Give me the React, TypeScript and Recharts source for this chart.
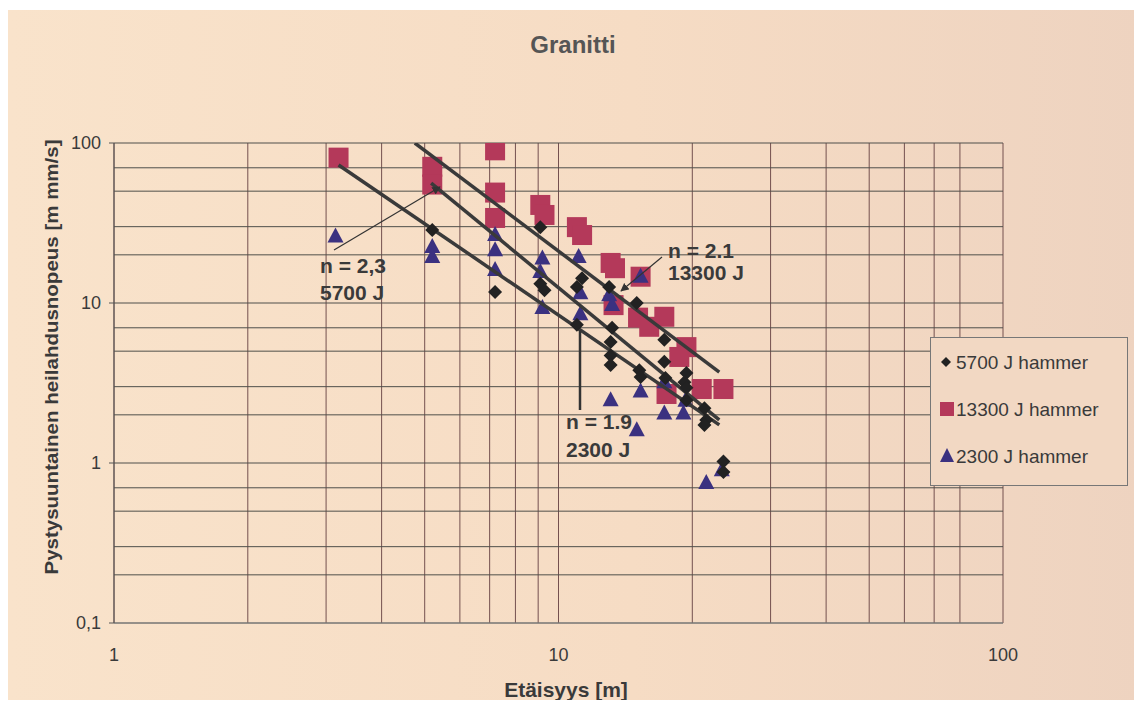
import React from "react";
import {
  ScatterChart,
  Scatter,
  XAxis,
  YAxis,
  CartesianGrid,
} from "recharts";

// 5700 J hammer (diamonds)
const h5700X = [5.2, 7.2, 9.1, 9.1, 9.3, 11.0, 11.3, 11.0, 13.0, 13.2, 13.1, 13.1, 13.1, 15.0, 15.2, 15.3, 17.3, 17.3, 17.4, 19.4, 19.2, 19.4, 19.4, 21.3, 21.5, 21.3, 23.5, 23.5];
const h5700Y = [28.6, 11.7, 29.8, 13.2, 12.0, 12.6, 14.3, 7.3, 12.6, 7.0, 5.7, 4.7, 4.1, 10.0, 3.8, 3.45, 5.9, 4.3, 3.4, 3.65, 3.2, 2.95, 2.47, 2.2, 1.86, 1.73, 1.02, 0.88];

// 13300 J hammer (squares)
const h13300X = [3.2, 5.2, 5.2, 7.2, 7.2, 7.2, 9.1, 9.3, 11.0, 11.3, 13.1, 13.4, 15.3, 13.3, 15.1, 17.3, 16.0, 19.4, 18.7, 17.5, 21.0, 23.5];
const h13300Y = [81, 71, 55, 90, 49, 34, 41, 35.5, 29.8, 26.6, 17.8, 16.5, 14.6, 9.7, 8.1, 8.2, 7.1, 5.3, 4.6, 2.7, 2.9, 2.9];

// 2300 J hammer (triangles)
const h2300X = [3.15, 5.2, 5.2, 7.2, 7.2, 7.2, 9.2, 9.1, 9.2, 11.1, 11.2, 11.2, 13.0, 13.2, 15.3, 13.1, 15.3, 15.0, 17.3, 19.1, 19.3, 17.3, 21.5, 23.3];
const h2300Y = [26, 22.4, 19.4, 26.6, 21.4, 16.1, 19.0, 15.6, 9.3, 19.4, 11.5, 8.5, 11.2, 9.7, 14.6, 2.47, 2.8, 1.6, 2.04, 2.04, 2.45, 3.2, 0.75, 0.9];

// fitted lines, end points
const fit13300X = [4.75, 23.0];
const fit13300Y = [100, 3.7];
const fit5700X = [5.17, 23.0];
const fit5700Y = [56.2, 1.86];
const fit2300X = [3.2, 23.0];
const fit2300Y = [72.9, 1.73];

const X_TICKS = [1, 10, 100];
const Y_TICKS = [0.1, 1, 10, 100];
const X_GRID = [1, 2, 3, 4, 5, 6, 7, 8, 9, 10, 20, 30, 40, 50, 60, 70, 80, 90, 100];
const Y_GRID = [0.1, 0.2, 0.3, 0.4, 0.5, 0.6, 0.7, 0.8, 0.9, 1, 2, 3, 4, 5, 6, 7, 8, 9, 10, 20, 30, 40, 50, 60, 70, 80, 90, 100];

const zip = (xs: number[], ys: number[]) => xs.map((x, i) => ({ x, y: ys[i] }));

const FONT = "'Liberation Sans', Arial, sans-serif";
const TEXT = "#3a3a3a";
const RED = "#b4395a";
const BLUE = "#3b3180";
const BLACK = "#222";
const LINE = "#3a3a3a";

const DiamondShape = (p: any) => (
  <polygon
    points={`${p.cx},${p.cy - 7} ${p.cx + 7},${p.cy} ${p.cx},${p.cy + 7} ${p.cx - 7},${p.cy}`}
    fill={BLACK}
  />
);
const SquareShape = (p: any) => (
  <rect x={p.cx - 10} y={p.cy - 10} width={20} height={20} fill={RED} />
);
const TriangleShape = (p: any) => (
  <polygon
    points={`${p.cx},${p.cy - 9} ${p.cx + 8},${p.cy + 6} ${p.cx - 8},${p.cy + 6}`}
    fill={BLUE}
  />
);
const NoShape = () => <g />;

const legendItems = [
  { label: "5700 J hammer", icon: "diamond" },
  { label: "13300 J hammer", icon: "square" },
  { label: "2300 J hammer", icon: "triangle" },
];

function LegendBox() {
  return (
    <svg
      width={198}
      height={149}
      style={{ position: "absolute", left: 922, top: 327, display: "block" }}
    >
      <rect x={0.5} y={0.5} width={197} height={148} fill="#f2d8c3" stroke="#777" />
      {legendItems.map((it, i) => {
        const cy = 25 + i * 47;
        return (
          <g key={it.label}>
            {it.icon === "diamond" && (
              <polygon points={`16,${cy - 5} 21,${cy} 16,${cy + 5} 11,${cy}`} fill={BLACK} />
            )}
            {it.icon === "square" && <rect x={10} y={cy - 7} width={14} height={14} fill={RED} />}
            {it.icon === "triangle" && (
              <polygon points={`17,${cy - 8} 24,${cy + 6} 10,${cy + 6}`} fill={BLUE} />
            )}
            <text x={26} y={cy + 7} fontSize={19} fontFamily={FONT} fill={TEXT}>
              {it.label}
            </text>
          </g>
        );
      })}
    </svg>
  );
}

export default function App() {
  return (
    <div style={{ paddingTop: 2 }}>
      <div
        style={{
          position: "relative",
          width: 1134,
          height: 690,
          background: "linear-gradient(90deg, #f9e3cb 0%, #f6dcc4 55%, #eed3c0 100%)",
        }}
      >
        <ScatterChart
          width={1134}
          height={690}
          margin={{ top: 133, right: 139, bottom: 37, left: 46 }}
        >
          <CartesianGrid
            horizontal={false}
            verticalValues={X_GRID}
            stroke="#74504f"
            strokeWidth={1}
          />
          <CartesianGrid
            vertical={false}
            horizontalValues={Y_GRID}
            stroke="#4f4f4a"
            strokeWidth={1}
          />
          <XAxis
            type="number"
            dataKey="x"
            scale="log"
            domain={[1, 100]}
            ticks={X_TICKS}
            allowDataOverflow
            height={40}
            tickLine={false}
            tickMargin={19}
            axisLine={{ stroke: "#888" }}
            tick={{ fontSize: 18, fill: TEXT, fontFamily: FONT }}
          />
          <YAxis
            type="number"
            dataKey="y"
            scale="log"
            domain={[0.1, 100]}
            ticks={Y_TICKS}
            allowDataOverflow
            width={60}
            tickSize={5}
            tickMargin={8}
            axisLine={{ stroke: "#555" }}
            tickLine={{ stroke: "#555" }}
            tickFormatter={(v: number) => (v === 0.1 ? "0,1" : String(v))}
            tick={{ fontSize: 18, fill: TEXT, fontFamily: FONT }}
          />
          <Scatter name="13300 J hammer" data={zip(h13300X, h13300Y)} shape={SquareShape} isAnimationActive={false} />
          <Scatter name="2300 J hammer" data={zip(h2300X, h2300Y)} shape={TriangleShape} isAnimationActive={false} />
          <Scatter name="fit 13300" data={zip(fit13300X, fit13300Y)} shape={NoShape} line={{ stroke: LINE, strokeWidth: 3.5 }} legendType="none" isAnimationActive={false} />
          <Scatter name="fit 5700" data={zip(fit5700X, fit5700Y)} shape={NoShape} line={{ stroke: LINE, strokeWidth: 3.5 }} legendType="none" isAnimationActive={false} />
          <Scatter name="fit 2300" data={zip(fit2300X, fit2300Y)} shape={NoShape} line={{ stroke: LINE, strokeWidth: 3.5 }} legendType="none" isAnimationActive={false} />
          <Scatter name="5700 J hammer" data={zip(h5700X, h5700Y)} shape={DiamondShape} isAnimationActive={false} />
        </ScatterChart>

        <LegendBox />

        {/* titles and annotations, page coordinates shifted by the chart offset */}
        <svg
          width={1134}
          height={690}
          style={{ position: "absolute", left: 0, top: 0, pointerEvents: "none" }}
        >
          <defs>
            <marker id="arrow" viewBox="0 0 10 10" refX="9" refY="5" markerWidth="7" markerHeight="7" orient="auto">
              <path d="M0,0 L10,5 L0,10 z" fill="#333" />
            </marker>
          </defs>
          <g transform="translate(-8,-10)" fontFamily={FONT}>
            <text x={573} y={53} textAnchor="middle" fontSize={24} fontWeight="bold" fill="#555">
              Granitti
            </text>
            <text
              transform="translate(58,357) rotate(-90)"
              textAnchor="middle"
              fontSize={18}
              fontWeight="bold"
              fill={TEXT}
              textLength={435}
              lengthAdjust="spacingAndGlyphs"
            >
              Pystysuuntainen heilahdusnopeus [m mm/s]
            </text>
            <text x={566} y={697} textAnchor="middle" fontSize={21} fontWeight="bold" fill={TEXT}>
              Etäisyys [m]
            </text>

            <line x1={334} y1={250} x2={440} y2={187} stroke="#333" strokeWidth={1.2} markerEnd="url(#arrow)" />
            <text x={320} y={273} fontSize={21} fontWeight="bold" fill={TEXT}>n = 2,3</text>
            <text x={320} y={300} fontSize={21} fontWeight="bold" fill={TEXT}>5700 J</text>

            <line x1={662} y1={257} x2={621} y2={291} stroke="#333" strokeWidth={1.2} markerEnd="url(#arrow)" />
            <text x={668} y={258} fontSize={21} fontWeight="bold" fill={TEXT}>n = 2.1</text>
            <text x={668} y={280} fontSize={21} fontWeight="bold" fill={TEXT}>13300 J</text>

            <line x1={580} y1={330} x2={580} y2={410} stroke="#333" strokeWidth={2.5} />
            <text x={566} y={429} fontSize={21} fontWeight="bold" fill={TEXT}>n = 1.9</text>
            <text x={566} y={457} fontSize={21} fontWeight="bold" fill={TEXT}>2300 J</text>
          </g>
        </svg>
      </div>
    </div>
  );
}
